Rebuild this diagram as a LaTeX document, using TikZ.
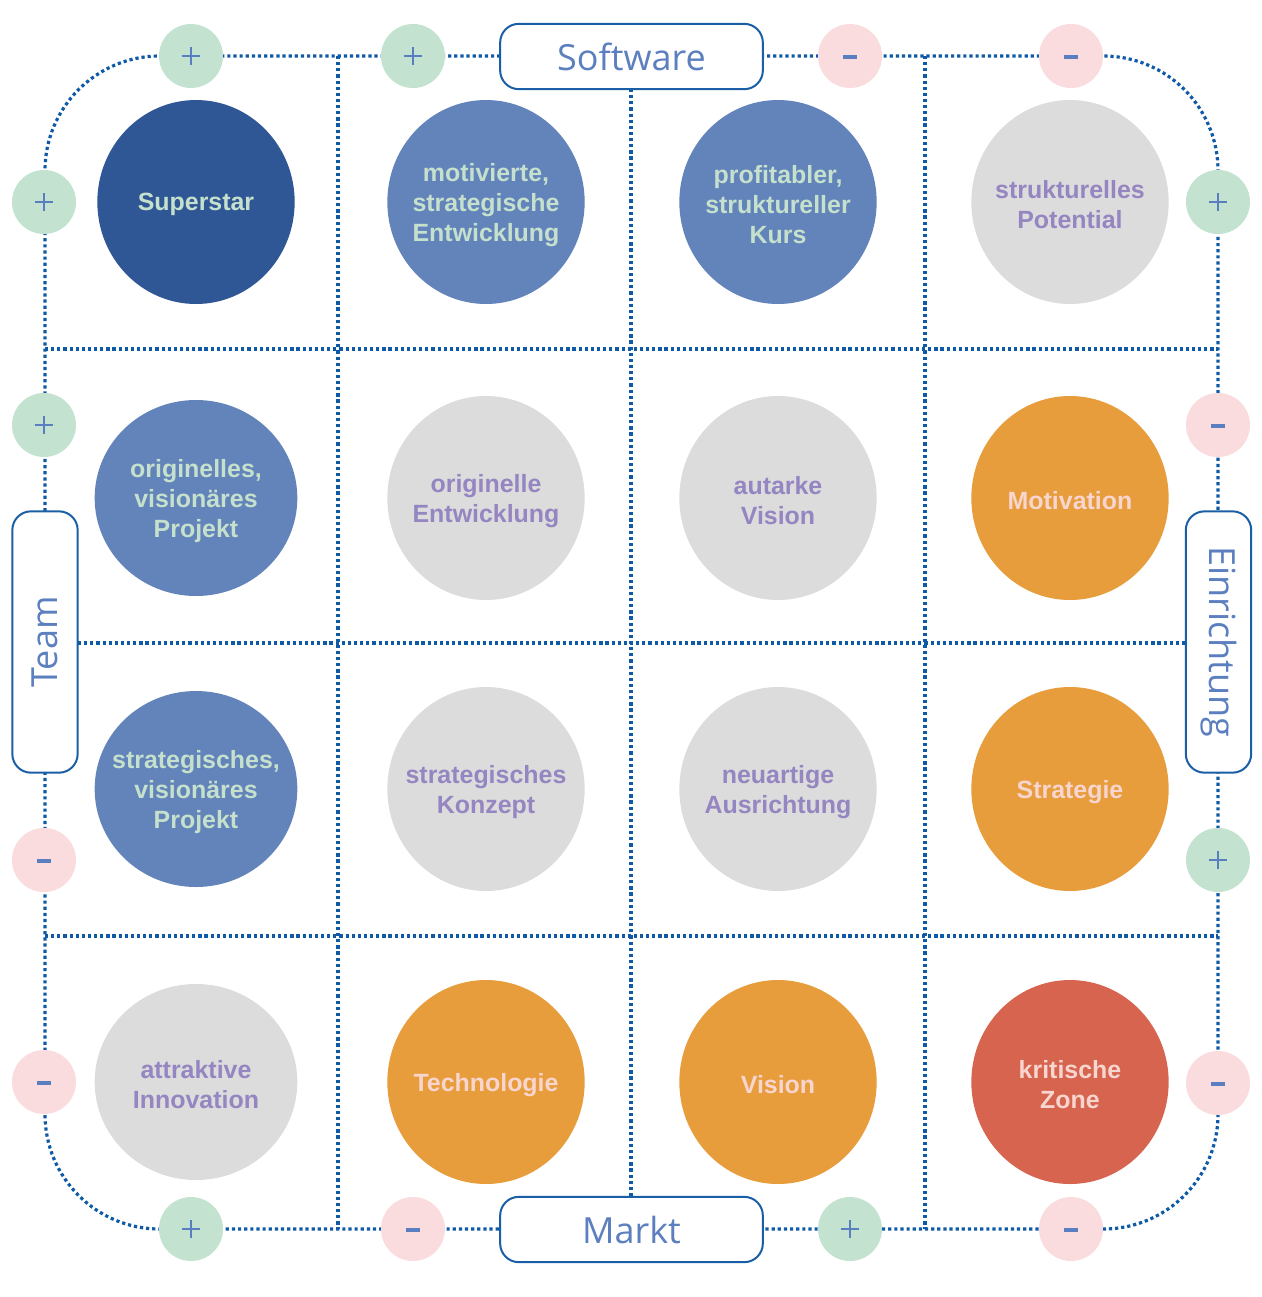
\documentclass[tikz,border=0pt]{standalone}
\usepackage{fontspec}
\setmainfont{Liberation Sans}
\newfontfamily\labelfont{Open Sans}
\usetikzlibrary{shapes.geometric}
\definecolor{dkblue}{HTML}{2F5796}
\definecolor{mdblue}{HTML}{6384BA}
\definecolor{ltgrey}{HTML}{DCDCDC}
\definecolor{orng}{HTML}{E79D3C}
\definecolor{rdd}{HTML}{D6644E}
\definecolor{txgreen}{HTML}{C5E0CC}
\definecolor{txpurple}{HTML}{9585C1}
\definecolor{txpink}{HTML}{F8D5CE}
\definecolor{smgreen}{HTML}{C3E2D0}
\definecolor{smpink}{HTML}{FADBDE}
\definecolor{signblue}{HTML}{5A7FC0}
\definecolor{dotblue}{HTML}{0E5AA7}
\definecolor{boxblue}{HTML}{1A5FA5}
\definecolor{lbltext}{HTML}{5B7FBF}
\tikzset{
  dotline/.style={draw=dotblue, line width=2.4pt, dash pattern=on 2.4pt off 2.2pt},
  bigv/.style={ellipse, inner sep=0pt, minimum width=148pt, minimum height=153pt},
  bigh/.style={ellipse, inner sep=0pt, minimum width=152pt, minimum height=147pt},
  ctext/.style={align=center, font=\bfseries\fontsize{18.7}{22.5}\selectfont, inner sep=0pt, yshift=-2pt},
  smallc/.style={circle, inner sep=0pt, minimum size=48pt},
  lblbox/.style={draw=boxblue, line width=1.5pt, fill=white, rounded corners=14pt, inner sep=0pt,
     text=lbltext, font=\labelfont\fontsize{27}{30}\selectfont},
  signline/.style={draw=signblue}
}
\newcommand\pluscirc[3]{%
  \node[smallc, fill=smgreen] (#1) at (#2,#3) {};
  \draw[signline, line width=1.9pt] ([xshift=-7pt]#1.center) -- ([xshift=7pt]#1.center);
  \draw[signline, line width=1.9pt] ([yshift=-7pt]#1.center) -- ([yshift=7pt]#1.center);}
\newcommand\minuscirc[3]{%
  \node[smallc, fill=smpink] (#1) at (#2,#3) {};
  \draw[signline, line width=3pt] ([xshift=-5.3pt,yshift=-0.8pt]#1.center) -- ([xshift=5.3pt,yshift=-0.8pt]#1.center);}
\begin{document}
\begin{tikzpicture}[x=0.75pt,y=-0.75pt]
\useasboundingbox (0,0) rectangle (1262,1297);
% label boxes (positions)
\coordinate (sw) at (631.5,56.5);
\coordinate (mk) at (631.5,1229.5);
\coordinate (tm) at (45,642);
\coordinate (ei) at (1218.5,642);
% grid coordinates
\coordinate (v1t) at (338,56);   \coordinate (v1b) at (338,1229);
\coordinate (v2t) at (631,89);   \coordinate (v2b) at (631,1197);
\coordinate (v3t) at (925,56);   \coordinate (v3b) at (925,1229);
\coordinate (h1l) at (45,349);   \coordinate (h1r) at (1218,349);
\coordinate (h2l) at (78,643);   \coordinate (h2r) at (1186,643);
\coordinate (h3l) at (45,936);   \coordinate (h3r) at (1218,936);
% frame and grid
\draw[dotline, rounded corners=86pt] (45,56) rectangle (1218,1229);
\draw[dotline] (v1t) -- (v1b);
\draw[dotline] (v2t) -- (v2b);
\draw[dotline] (v3t) -- (v3b);
\draw[dotline] (h1l) -- (h1r);
\draw[dotline] (h2l) -- (h2r);
\draw[dotline] (h3l) -- (h3r);
% big circles row 1
\node[bigv, fill=dkblue] (c11) at (196,202) {};
\node[ctext, text=txgreen] (t11) at (c11) {Superstar};
\node[bigv, fill=mdblue] (c12) at (486,202) {};
\node[ctext, text=txgreen] (t12) at (c12) {motivierte,\\strategische\\Entwicklung};
\node[bigv, fill=mdblue] (c13) at (778,202) {};
\node[ctext, text=txgreen] (t13) at (c13) {profitabler,\\struktureller\\Kurs};
\node[bigv, fill=ltgrey] (c14) at (1070,202) {};
\node[ctext, text=txpurple] (t14) at (c14) {strukturelles\\Potential};
% row 2
\node[bigh, fill=mdblue] (c21) at (196,498) {};
\node[ctext, text=txgreen] (t21) at (c21) {originelles,\\visionäres\\Projekt};
\node[bigv, fill=ltgrey] (c22) at (486,498) {};
\node[ctext, text=txpurple] (t22) at (c22) {originelle\\Entwicklung};
\node[bigv, fill=ltgrey] (c23) at (778,498) {};
\node[ctext, text=txpurple] (t23) at (c23) {autarke\\Vision};
\node[bigv, fill=orng] (c24) at (1070,498) {};
\node[ctext, text=txpink] (t24) at (c24) {Motivation};
% row 3
\node[bigh, fill=mdblue] (c31) at (196,789) {};
\node[ctext, text=txgreen] (t31) at (c31) {strategisches,\\visionäres\\Projekt};
\node[bigv, fill=ltgrey] (c32) at (486,789) {};
\node[ctext, text=txpurple] (t32) at (c32) {strategisches\\Konzept};
\node[bigv, fill=ltgrey] (c33) at (778,789) {};
\node[ctext, text=txpurple] (t33) at (c33) {neuartige\\Ausrichtung};
\node[bigv, fill=orng] (c34) at (1070,789) {};
\node[ctext, text=txpink] (t34) at (c34) {Strategie};
% row 4
\node[bigh, fill=ltgrey] (c41) at (196,1082) {};
\node[ctext, text=txpurple] (t41) at (c41) {attraktive\\Innovation};
\node[bigv, fill=orng] (c42) at (486,1082) {};
\node[ctext, text=txpink] (t42) at (c42) {Technologie};
\node[bigv, fill=orng] (c43) at (778,1082) {};
\node[ctext, text=txpink] (t43) at (c43) {Vision};
\node[bigv, fill=rdd] (c44) at (1070,1082) {};
\node[ctext, text=txpink] (t44) at (c44) {kritische\\Zone};
% small +/- circles
\pluscirc{pt1}{191}{56}
\pluscirc{pt2}{413}{56}
\minuscirc{mt3}{850}{56}
\minuscirc{mt4}{1071}{56}
\pluscirc{pl1}{44}{202}
\pluscirc{pl2}{44}{425}
\minuscirc{ml3}{44}{860}
\minuscirc{ml4}{44}{1082}
\pluscirc{pr1}{1218}{202}
\minuscirc{mr2}{1218}{425}
\pluscirc{pr3}{1218}{860}
\minuscirc{mr4}{1218}{1083}
\pluscirc{pb1}{191}{1229}
\minuscirc{mb2}{413}{1229}
\pluscirc{pb3}{850}{1229}
\minuscirc{mb4}{1071}{1229}
% label boxes
\node[lblbox, minimum width=197pt, minimum height=49pt] (software) at (sw) {Software};
\node[lblbox, minimum width=197pt, minimum height=49pt] (markt) at (mk) {Markt};
\node[lblbox, minimum width=49pt, minimum height=196pt] (team) at (tm) {};
\node[text=lbltext, font=\labelfont\fontsize{27}{30}\selectfont, rotate=90] (teamt) at (team) {Team};
\node[lblbox, minimum width=49pt, minimum height=196pt] (einr) at (ei) {};
\node[text=lbltext, font=\labelfont\fontsize{27}{30}\selectfont, rotate=-90] (einrt) at (einr) {Einrichtung};
\end{tikzpicture}
\end{document}
